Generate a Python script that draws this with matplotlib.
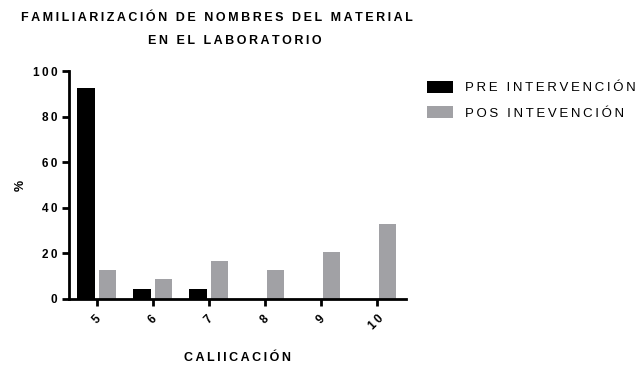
import matplotlib
matplotlib.use('Agg')
import matplotlib.pyplot as plt
import numpy as np

plt.rcParams['font.family'] = ['Liberation Sans', 'DejaVu Sans']

calificaciones = ['5', '6', '7', '8', '9', '10']
pre_intervencion = [92.7, 4.5, 4.5, 0, 0, 0]
pos_intervencion = [12.6, 8.6, 16.5, 12.6, 20.5, 32.9]
y_ticks = [0, 20, 40, 60, 80, 100]

BLACK = '#000000'
GREY = '#A1A1A5'


def spaced(text, sep='\u2009'):
    """puts a thin space between every character"""
    return sep.join(text)


fig = plt.figure(figsize=(6.42, 3.70), dpi=100)
ax = fig.add_axes([0.1067, 0.1919, 0.5257, 0.6162])

x = np.arange(len(calificaciones))
width = 0.314
offset = 0.19
ax.bar(x - offset, pre_intervencion, width, color=BLACK, label='PRE INTERVENCIÓN')
ax.bar(x + offset, pos_intervencion, width, color=GREY, label='POS INTEVENCIÓN')

ax.set_xlim(-0.504, 5.52)
ax.set_ylim(0, 100)
ax.set_yticks(y_ticks)
ax.set_yticklabels([spaced(str(v)) for v in y_ticks], fontsize=8.5, fontweight='bold')
ax.set_xticks(x)
ax.set_xticklabels([spaced(c) for c in calificaciones], fontsize=8.5,
                   fontweight='bold', rotation=45, ha='center', va='top')

for side in ['top', 'right']:
    ax.spines[side].set_visible(False)
for side in ['left', 'bottom']:
    ax.spines[side].set_linewidth(2)
ax.tick_params(width=2, length=5, pad=3)
ax.tick_params(axis='x', pad=5)

ax.set_ylabel('%', fontsize=9, fontweight='bold', labelpad=4)
ax.set_xlabel(spaced('CALIICACIÓN'), fontsize=9, fontweight='bold', labelpad=14)

fig.text(0.338, 0.952, spaced('FAMILIARIZACIÓN DE NOMBRES DEL MATERIAL'),
         fontsize=9, fontweight='bold', ha='center', va='center')
fig.text(0.366, 0.888, spaced('EN EL LABORATORIO'),
         fontsize=9, fontweight='bold', ha='center', va='center')

handles, labels = ax.get_legend_handles_labels()
fig.legend(handles, [spaced(l) for l in labels], loc='upper left',
           bbox_to_anchor=(0.665, 0.782), frameon=False, fontsize=9.5,
           handlelength=2.0, handleheight=1.05, handletextpad=0.9,
           labelspacing=0.9, borderaxespad=0, borderpad=0)

fig.savefig('out.png', dpi=100)
